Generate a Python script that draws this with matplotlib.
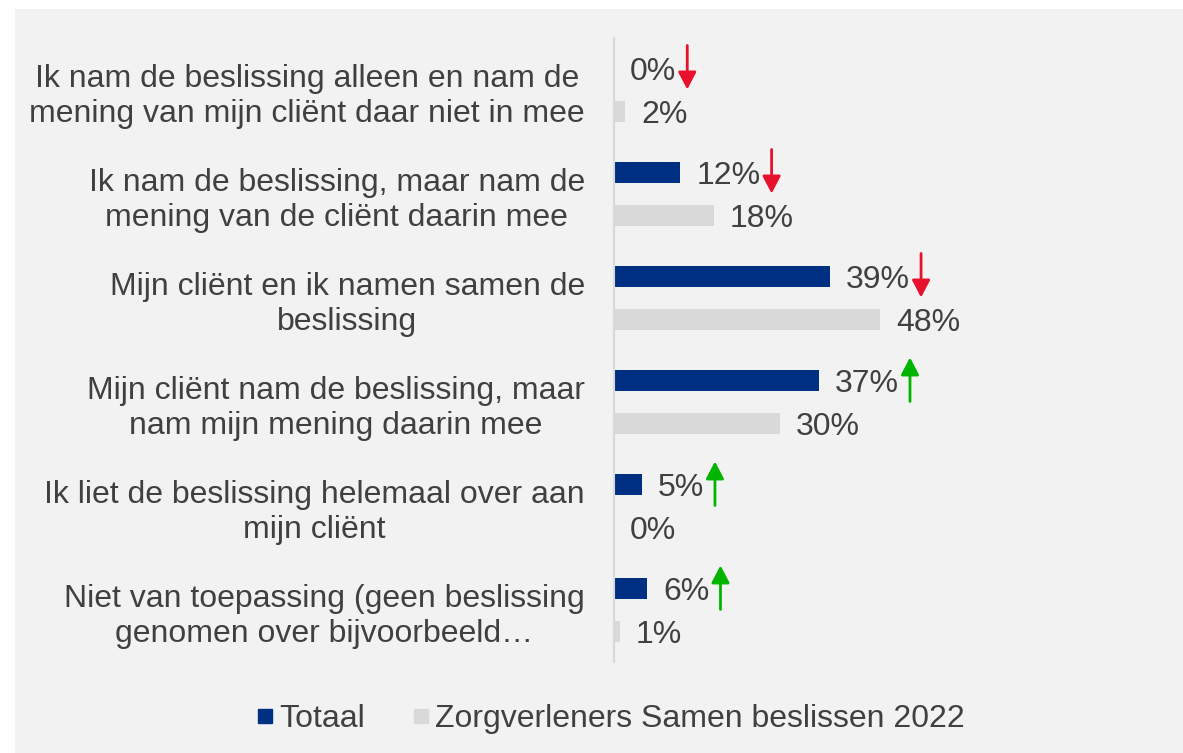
import matplotlib
matplotlib.use("Agg")
import matplotlib.pyplot as plt
from matplotlib.patches import Rectangle, FancyArrowPatch
from matplotlib.lines import Line2D

categories = [
    "Ik nam de beslissing alleen en nam de\nmening van mijn cliënt daar niet in mee",
    "Ik nam de beslissing, maar nam de\nmening van de cliënt daarin mee",
    "Mijn cliënt en ik namen samen de\nbeslissing",
    "Mijn cliënt nam de beslissing, maar\nnam mijn mening daarin mee",
    "Ik liet de beslissing helemaal over aan\nmijn cliënt",
    "Niet van toepassing (geen beslissing\ngenomen over bijvoorbeeld…",
]
totaal = [0, 12, 39, 37, 5, 6]
zorg2022 = [2, 18, 48, 30, 0, 1]
trend = ["down", "down", "down", "up", "up", "up"]
series_names = ["Totaal", "Zorgverleners Samen beslissen 2022"]

NAVY = "#003082"
LGREY = "#d9d9d9"
TXT = "#404040"
RED = "#e8112d"
GREEN = "#00b400"
FS = 23
LFS = 23

plt.rcParams["font.family"] = ["Liberation Sans", "DejaVu Sans"]

W, H = 1183, 753
fig = plt.figure(figsize=(W / 100, H / 100), dpi=100, facecolor="white")
fig.patches.append(Rectangle((15 / W, 0), 1 - 15 / W, 1 - 9 / H, transform=fig.transFigure,
                             facecolor="#f2f2f2", edgecolor="none", zorder=-10))

ax_left = 614 / W
ax_bottom = 1 - 662 / H
ax_h = (662 - 38) / H
px_per_pct = 5.54
xmax = 50
ax = fig.add_axes([ax_left, ax_bottom, xmax * px_per_pct / W, ax_h])
ax.set_facecolor("none")

ypos = list(range(len(categories)))
off = 0.207
bh = 0.21
ax.barh([y - off for y in ypos], totaal, height=bh, color=NAVY, zorder=2)
ax.barh([y + off for y in ypos], zorg2022, height=bh, color=LGREY, zorder=2)
ax.set_ylim(len(categories) - 0.5, -0.5)
ax.set_xlim(0, xmax)

for s in ["top", "right", "bottom"]:
    ax.spines[s].set_visible(False)
ax.spines["left"].set_color("#d9d9d9")
ax.spines["left"].set_linewidth(1.5)
ax.set_xticks([])
ax.set_yticks(ypos)
ax.set_yticklabels(categories, fontsize=FS, color=TXT)
ax.tick_params(axis="y", length=0, pad=21)
for lab in ax.get_yticklabels():
    lab.set_multialignment("center")
    lab.set_linespacing(1.22)

# value labels
lab_pad = 16 / px_per_pct
navy_texts = []
for y, v in zip(ypos, totaal):
    t = ax.text(v + lab_pad, y - off, f"{v}%", va="center_baseline", ha="left", fontsize=FS, color=TXT)
    navy_texts.append(t)
for y, v in zip(ypos, zorg2022):
    ax.text(v + lab_pad, y + off, f"{v}%", va="center_baseline", ha="left", fontsize=FS, color=TXT)

# trend arrows next to Totaal labels
fig.canvas.draw()
r = fig.canvas.get_renderer()
inv = ax.transData.inverted()
unit_px = ax_h * H / len(categories)
for y, t, d in zip(ypos, navy_texts, trend):
    bb = t.get_window_extent(r)
    xd = inv.transform((bb.x1 + 11, 0))[0]
    top = y - off - 23 / unit_px
    bot = y - off + 21 / unit_px
    if d == "down":
        a, b, c = (xd, top), (xd, bot), RED
    else:
        a, b, c = (xd, bot), (xd, top), GREEN
    ax.add_patch(FancyArrowPatch(a, b, arrowstyle="-|>,head_length=10.5,head_width=5.5",
                                 mutation_scale=1, color=c, lw=2, shrinkA=0, shrinkB=0,
                                 clip_on=False, zorder=3))

handles = [Line2D([], [], marker="s", linestyle="none", markersize=10, color=NAVY),
           Line2D([], [], marker="s", linestyle="none", markersize=10, color=LGREY)]
fig.legend(handles, series_names, loc="center", bbox_to_anchor=(611 / W, 1 - 719 / H),
           ncol=2, frameon=False, fontsize=LFS, labelcolor=TXT, handlelength=0.5,
           handletextpad=0.2, columnspacing=1.5)

fig.savefig("out.png", dpi=100, facecolor="white")
